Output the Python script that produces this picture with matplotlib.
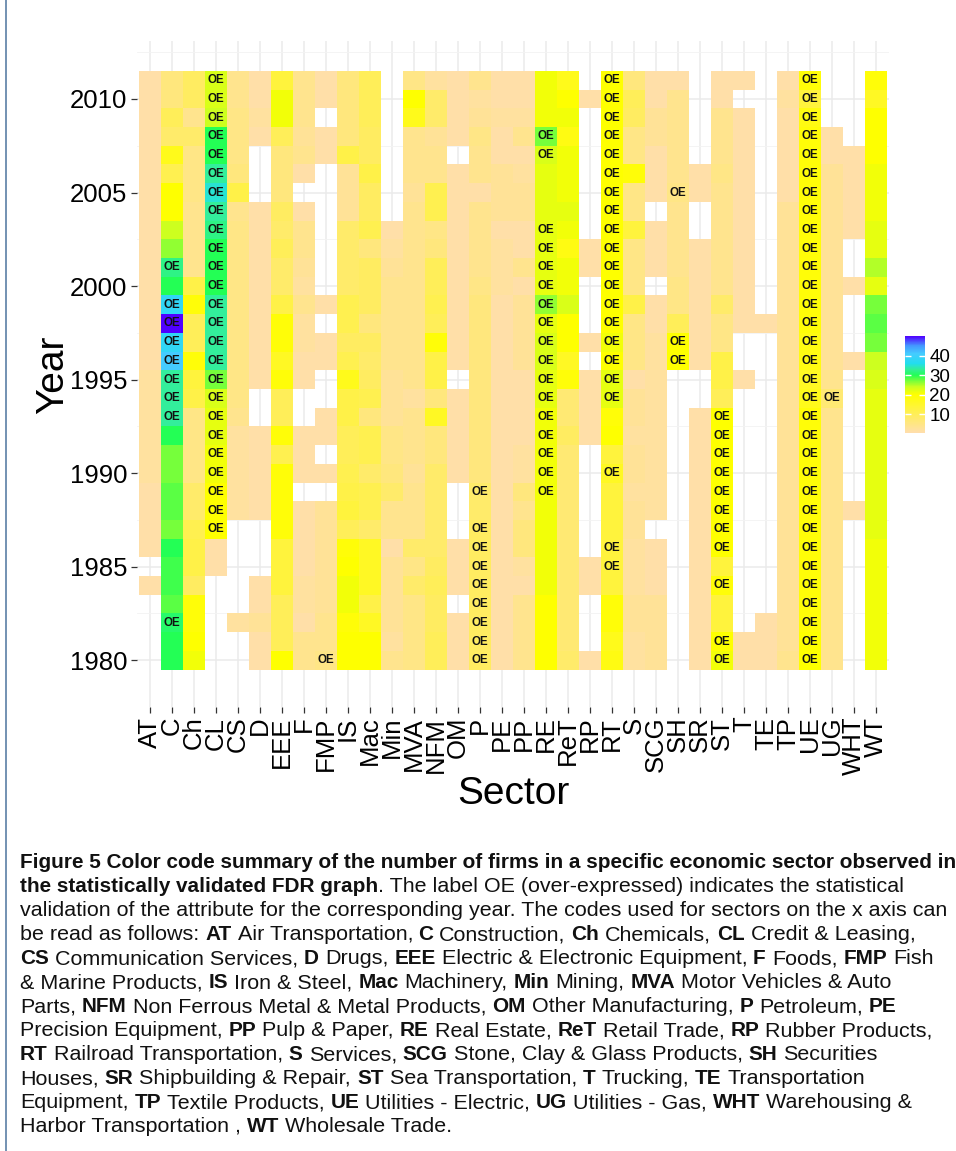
import numpy as np
import matplotlib
matplotlib.use('agg')
import matplotlib.pyplot as plt
import matplotlib.font_manager as mfm
from matplotlib.colors import LinearSegmentedColormap, Normalize
from matplotlib.lines import Line2D

N = None
years = list(range(1980, 2012))
sectors = ['AT', 'C', 'Ch', 'CL', 'CS', 'D', 'EEE', 'F', 'FMP', 'IS', 'Mac', 'Min',
           'MVA', 'NFM', 'OM', 'P', 'PE', 'PP', 'RE', 'ReT', 'RP', 'RT', 'S', 'SCG',
           'SH', 'SR', 'ST', 'T', 'TE', 'TP', 'UE', 'UG', 'WHT', 'WT']

# number of firms per year, 1980 -> 2011 (None = sector not in the graph)
n_AT = [N, N, N, N, 1, N, 1, 1, 1, 1, 2, 2, 2, 2, 2, 2, 1, 1, 1, 1, 1, 1, 1, 1, 1, 1, 1, 1, 1, 1, 1, 1]
n_C = [30, 30, 31, 28, 29, 29, 30, 27, 28, 28, 27, 27, 30, 33, 33, 33, 41, 38, 50, 38,
       30, 32, 26, 24, 20, 20, 11, 17, 8, 10, 6, 6]
n_Ch = [21, 20, 19, 19, 9, 12, 12, 11, 8, 8, 5, 5, 5, 5, 12, 13, 19, 10, 10, 19,
        12, 4, 4, 4, 4, 5, 5, 5, 8, 4, 9, 9]
n_CL = [N, N, N, N, N, 1, 1, 20, 20, 20, 21, 21, 22, 22, 23, 27, 33, 33, 33, 33,
        30, 30, 30, 32, 33, 35, 33, 30, 30, 24, 23, 23]
n_CS = [N, N, 2, N, N, N, N, N, 2, 2, 2, 2, 2, 4, 5, 5, 5, 5, 5, 5, 5, 5, 5, 5, 4, 12, 6, 5, 5, 5, 4, 4]
n_D = [1, 1, 3, 1, 1, N, N, N, 1, 1, 1, 1, 1, N, N, 1, 1, 1, 1, 1, 1, 1, 1, 1, 1, N, N, N, 1, 2, 1, 1]
n_EEE = [20, 10, 10, 10, 13, 13, 13, 19, 19, 19, 19, 11, 19, 10, 10, 19, 16, 19, 19, 12,
         8, 8, 10, 8, 9, 6, 6, 6, 10, 21, 21, 13]
n_F = [4, 4, 1, 2, 2, 1, 1, 1, 1, N, 1, 1, 1, N, N, 1, 1, 2, 2, 4, 2, 3, 4, 4, 1, N, 1, 4, 3, 4, 4, 4]
n_FMP = [5, 4, 4, 3, 3, 3, 3, 3, 3, N, 1, N, 1, 1, N, N, 1, 1, N, 1, N, N, N, N, N, N, N, 1, 1, N, 1, 1]
n_IS = [20, 20, 19, 21, 21, 20, 19, 10, 13, 12, 11, 10, 10, 12, 12, 17, 11, 9, 11, 11,
        8, 8, 8, 8, 3, 3, 3, 12, 6, 6, 6, 6]
n_Mac = [20, 20, 16, 12, 16, 16, 16, 8, 11, 11, 8, 11, 11, 6, 11, 9, 8, 9, 6, 9,
         9, 9, 6, 11, 9, 9, 12, 9, 9, 10, 10, 10]
n_Min = [4, 2, 3, 3, 3, 3, 1, 4, 4, 8, 6, 5, 5, 3, 3, 3, 4, 4, 4, 4, 4, 3, 2, 1, N, N, N, N, N, N, N, N]
n_MVA = [5, 5, 5, 5, 8, 5, 8, 4, 4, 4, 3, 4, 4, 4, 2, 4, 4, 4, 4, 4, 4, 4, 4, 4, 4, 3, 4, 4, 4, 17, 20, 5]
n_NFM = [10, 10, 9, 9, 10, 9, 8, 8, 8, 8, 8, 6, 6, 16, 6, 12, 12, 19, 10, 11,
         10, 10, 6, 5, 11, 11, 4, 4, 3, 8, 8, 2]
n_OM = [1, 1, 1, N, 1, 1, 1, N, N, N, 1, 1, 1, 1, 1, N, 1, 1, 1, 1, 1, 1, 1, 1, 1, 1, 1, N, 1, 1, 1, 1]
n_P = [9, 9, 9, 9, 9, 9, 9, 9, 8, 8, 6, 6, 6, 6, 6, 6, 6, 6, 6, 6, 5, 4, 4, 4, 4, 1, 4, 4, 5, 3, 2, 4]
n_PE = [1, 1, 1, 1, 1, 1, 1, 1, 1, 1, 1, 1, 1, 1, 1, 1, 1, 1, 1, 1, 2, 2, 2, 1, 3, 3, 3, 1, 1, 2, 1, 1]
n_PP = [4, 4, 4, 4, 1, 2, 6, 6, 4, 6, 2, 2, 1, 1, 1, 1, 3, 3, 3, 3, 1, 4, 1, 1, 3, 3, 2, 1, 4, 2, 1, 1]
n_RE = [20, 20, 20, 20, 21, 21, 21, 21, 21, 21, 21, 21, 21, 21, 22, 22, 23, 23, 22, 26,
        22, 22, 22, 22, 22, 22, 22, 23, 27, 21, 21, 21]
n_ReT = [8, 7, 7, 7, 7, 7, 7, 7, 7, 7, 7, 7, 9, 7, 7, 19, 16, 20, 20, 23,
         21, 21, 18, 21, 22, 21, 21, 21, 18, 21, 20, 17]
n_RP = [1, N, N, N, 1, 1, N, N, N, N, N, N, 1, 1, 1, 1, N, 1, N, N, N, 1, 1, N, N, N, N, N, N, N, 1, N]
n_RT = [18, 17, 19, 19, 13, 13, 13, 13, 13, 13, 16, 13, 20, 19, 22, 22, 20, 21, 20, 20,
        20, 20, 20, 20, 20, 20, 20, 20, 20, 20, 20, 20]
n_S = [2, 2, 3, 3, 2, 2, 2, 3, 3, 2, 3, 3, 2, 3, 3, 1, 5, 5, 5, 12, 5, 5, 5, 13, 5, 5, 19, 5, 5, 9, 10, 6]
n_SCG = [3, 3, 3, 3, 1, 1, 1, N, 2, 2, 2, 2, 2, 2, 2, 2, 2, 2, 1, 1, N, 1, 1, 1, N, 1, 1, 1, 3, 3, 1, 1]
n_SH = [N, N, N, N, N, N, N, N, N, N, N, N, N, N, N, N, 20, 20, 10, 5, 5, 4, 4, 4, 4, 5, 4, 4, 4, 4, 4, 1]
n_SR = [1, 1, 1, 1, 1, 1, 1, 1, 1, 1, 1, 1, 1, 1, N, N, 1, 1, 1, 1, 1, 1, 1, N, N, 1, 1, N, N, N, N, N]
n_ST = [21, 20, 13, 13, 19, 13, 20, 20, 20, 20, 20, 20, 20, 20, 10, 12, 12, 5, 5, 8,
        4, 4, 4, 4, 4, 4, 5, 4, 4, 4, 1, 1]
n_T = [1, 1, N, N, N, N, N, N, N, N, N, N, N, N, N, 1, N, N, 1, 1, 1, 1, 1, 1, 1, 1, 1, 1, 1, 1, N, 1]
n_TE = [1, 1, 1, N, N, N, N, N, N, N, N, N, N, N, N, N, N, N, 1, N, N, N, N, N, N, N, N, N, N, N, N, N]
n_TP = [4, 3, 3, 3, 3, 3, 3, 3, 3, 3, 3, 3, 3, 3, 3, 3, 3, 3, 3, 3, 3, 3, 3, 3, 3, 1, 1, 1, 1, 1, 2, 1]
n_UE = [20, 20, 19, 19, 19, 19, 19, 19, 19, 19, 19, 19, 19, 19, 17, 16, 18, 18, 19, 19,
        19, 19, 19, 19, 19, 19, 19, 19, 19, 18, 13, 19]
n_UG = [4, 4, 4, 4, 4, 4, 4, 4, 4, 4, 4, 4, 4, 4, 7, 4, 3, 3, 3, 3, 3, 3, 3, 3, 3, 3, 3, 1, 1, N, N, N]
n_WHT = [N, N, N, N, N, N, N, N, 1, N, N, N, N, N, N, N, 1, N, N, N, 1, N, N, 1, 1, 1, 1, 1, N, N, N, N]
n_WT = [21, 21, 21, 21, 21, 21, 21, 22, 22, 22, 22, 22, 22, 22, 22, 23, 24, 27, 28, 27,
        22, 25, 22, 22, 21, 21, 21, 20, 20, 20, 16, 19]

# years where the sector is over-expressed
oe_years = {
    'C': [1982, 1993, 1994, 1995, 1996, 1997, 1998, 1999, 2001],
    'CL': list(range(1987, 2012)),
    'FMP': [1980],
    'P': [1980, 1981, 1982, 1983, 1984, 1985, 1986, 1987, 1989],
    'RE': list(range(1989, 2004)) + [2007, 2008],
    'RT': [1985, 1986, 1990] + list(range(1994, 2012)),
    'SH': [1996, 1997, 2005],
    'ST': [1980, 1981, 1984] + list(range(1986, 1994)),
    'UE': list(range(1980, 2012)),
    'UG': [1994],
}

columns = [n_AT, n_C, n_Ch, n_CL, n_CS, n_D, n_EEE, n_F, n_FMP, n_IS, n_Mac, n_Min,
           n_MVA, n_NFM, n_OM, n_P, n_PE, n_PP, n_RE, n_ReT, n_RP, n_RT, n_S, n_SCG,
           n_SH, n_SR, n_ST, n_T, n_TE, n_TP, n_UE, n_UG, n_WHT, n_WT]

caption = [
    [("Figure 5 Color code summary of the number of firms in a specific economic sector observed in", True)],
    [("the statistically validated FDR graph", True),
     (". The label OE (over-expressed) indicates the statistical", False)],
    [("validation of the attribute for the corresponding year. The codes used for sectors on the x axis can", False)],
    [("be read as follows: ", False), ("AT", True), (" Air Transportation, ", False), ("C", True),
     (" Construction, ", False), ("Ch", True), (" Chemicals, ", False), ("CL", True), (" Credit & Leasing,", False)],
    [("CS", True), (" Communication Services, ", False), ("D", True), (" Drugs, ", False), ("EEE", True),
     (" Electric & Electronic Equipment, ", False), ("F", True), (" Foods, ", False), ("FMP", True), (" Fish", False)],
    [("& Marine Products, ", False), ("IS", True), (" Iron & Steel, ", False), ("Mac", True),
     (" Machinery, ", False), ("Min", True), (" Mining, ", False), ("MVA", True), (" Motor Vehicles & Auto", False)],
    [("Parts, ", False), ("NFM", True), (" Non Ferrous Metal & Metal Products, ", False), ("OM", True),
     (" Other Manufacturing, ", False), ("P", True), (" Petroleum, ", False), ("PE", True)],
    [("Precision Equipment, ", False), ("PP", True), (" Pulp & Paper, ", False), ("RE", True),
     (" Real Estate, ", False), ("ReT", True), (" Retail Trade, ", False), ("RP", True), (" Rubber Products,", False)],
    [("RT", True), (" Railroad Transportation, ", False), ("S", True), (" Services, ", False), ("SCG", True),
     (" Stone, Clay & Glass Products, ", False), ("SH", True), (" Securities", False)],
    [("Houses, ", False), ("SR", True), (" Shipbuilding & Repair, ", False), ("ST", True),
     (" Sea Transportation, ", False), ("T", True), (" Trucking, ", False), ("TE", True), (" Transportation", False)],
    [("Equipment, ", False), ("TP", True), (" Textile Products, ", False), ("UE", True),
     (" Utilities - Electric, ", False), ("UG", True), (" Utilities - Gas, ", False), ("WHT", True),
     (" Warehousing &", False)],
    [("Harbor Transportation , ", False), ("WT", True), (" Wholesale Trade.", False)],
]

W, H = 956, 1151
plt.rcParams['font.family'] = ['Liberation Sans', 'DejaVu Sans']


def pick_font(names):
    for name in names:
        try:
            mfm.findfont(mfm.FontProperties(family=name), fallback_to_default=False)
            return name
        except ValueError:
            pass
    return 'DejaVu Sans'


cap_font = pick_font(['Liberation Sans Narrow', 'Liberation Sans'])

cmap = LinearSegmentedColormap.from_list('firms', [
    (0.0, '#FFDEAD'), ((20 - 0.4) / 49.6, '#FFFF00'), ((24 - 0.4) / 49.6, '#CCFF20'),
    ((30 - 0.4) / 49.6, '#22FF55'), ((33 - 0.4) / 49.6, '#33EE99'), ((36 - 0.4) / 49.6, '#22DDEE'),
    ((41 - 0.4) / 49.6, '#44CCFF'), ((45 - 0.4) / 49.6, '#4499FF'), (1.0, '#5000FF')])
norm = Normalize(vmin=0.4, vmax=50)

fig = plt.figure(figsize=(W / 100, H / 100), dpi=100)
ax = fig.add_axes([137 / W, 1 - 707 / H, (889 - 137) / W, (707 - 41) / H])

grid = np.array([[np.nan if v is None else v for v in col] for col in columns], float).T
ax.pcolormesh(np.arange(len(sectors) + 1) - 0.5, np.arange(1979.5, 2012.0, 1.0),
              np.ma.masked_invalid(grid), cmap=cmap, norm=norm, antialiased=False, linewidth=0)

for sec, yrs in oe_years.items():
    i = sectors.index(sec)
    for y in yrs:
        ax.text(i, y, 'OE', ha='center', va='center', fontsize=8.3, fontweight='bold', color='#111111')

ax.set_xlim(-0.59, len(sectors) - 0.41)
ax.set_ylim(1977.9, 2013.1)
ax.set_xticks(range(len(sectors)))
ax.set_xticklabels(sectors, rotation=90, fontsize=18.5)
ax.set_yticks([1980, 1985, 1990, 1995, 2000, 2005, 2010])
ax.set_yticks(np.arange(1977.5, 2013, 5), minor=True)
ax.tick_params(axis='both', which='major', length=4, width=0.9, color='#333333', pad=3, labelsize=18.5)
ax.tick_params(axis='y', which='minor', length=0)
ax.set_axisbelow(True)
ax.grid(which='major', color='#EBEBEB', linewidth=1.1)
ax.grid(which='minor', axis='y', color='#F3F3F3', linewidth=0.6)
for sp in ax.spines.values():
    sp.set_visible(False)

fig.text(53 / W, 1 - 375 / H, 'Year', rotation=90, ha='center', va='center', fontsize=28)
fig.text(513 / W, 1 - 794 / H, 'Sector', ha='center', va='center', fontsize=28)

# colour bar
cax = fig.add_axes([905 / W, 1 - 433 / H, 20 / W, 97 / H])
cb = fig.colorbar(plt.cm.ScalarMappable(norm=norm, cmap=cmap), cax=cax, ticks=[10, 20, 30, 40])
cb.outline.set_visible(False)
cax.tick_params(which='major', direction='in', length=4, width=1, color='white',
                left=True, right=True, labelsize=13.5, pad=3)
cax.tick_params(which='minor', length=0)

# caption
renderer = fig.canvas.get_renderer()


def text_w(s, size, bold):
    t = fig.text(0, 0, s, fontsize=size, fontweight='bold' if bold else 'normal', family=cap_font)
    w = t.get_window_extent(renderer).width
    t.remove()
    return w


def advance(s, size, bold):
    return text_w('|' + s + '|', size, bold) - text_w('||', size, bold)


size_reg = 12 * 930 / advance(caption[2][0][0], 12, False)
size_bold = 12 * 930 / advance(caption[0][0][0], 12, True)
for k, line in enumerate(caption):
    x = 20.0
    y = 863 + 24.0 * k
    for seg, bold in line:
        size = size_bold if bold else size_reg
        lead = len(seg) - len(seg.lstrip(' '))
        x0 = x + (advance(' ' * lead, size, bold) if lead else 0)
        fig.text(x0 / W, 1 - y / H, seg.strip(' '), fontsize=size, family=cap_font,
                 fontweight='bold' if bold else 'normal', ha='left', va='center', color='#111111')
        x += advance(seg, size, bold)

fig.add_artist(Line2D([6 / W, 6 / W], [0, 1], transform=fig.transFigure, color='#5B7FA6', lw=1.2))

fig.savefig('out.png', dpi=100, facecolor='white')
